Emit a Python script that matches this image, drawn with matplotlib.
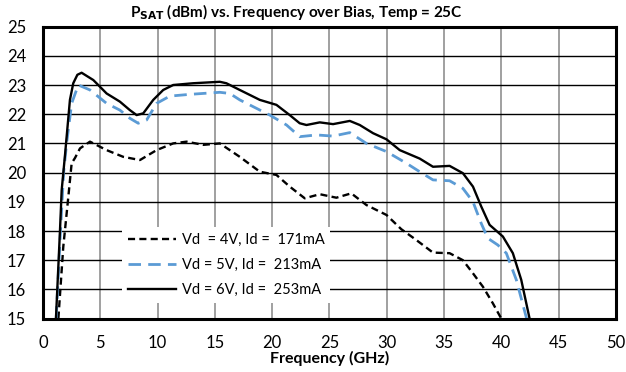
import matplotlib
matplotlib.use('Agg')
import matplotlib.pyplot as plt

plt.rcParams['font.family'] = ['Lato', 'DejaVu Sans']

# Vd = 4V, Id = 171mA
freq_4v = [1.34, 1.77, 2.21, 2.5, 2.79, 3.23, 4.1, 5.55, 7.0, 8.46, 9.91, 11.36, 12.53,
           13.98, 15.43, 17.17, 18.92, 20.37, 21.53, 22.84, 24.15, 25.6, 26.9, 28.22,
           29.97, 31.27, 32.58, 34.03, 35.48, 36.64, 37.52, 38.39, 39.26, 39.99]
psat_4v = [15.0, 17.46, 19.17, 20.32, 20.5, 20.83, 21.06, 20.77, 20.54, 20.43, 20.77, 21.0, 21.06,
           20.95, 21.0, 20.54, 20.03, 19.92, 19.52, 19.12, 19.26, 19.14, 19.29, 18.89,
           18.55, 18.06, 17.69, 17.26, 17.24, 17.0, 16.55, 16.09, 15.52, 15.0]

# Vd = 5V, Id = 213mA
freq_5v = [1.15, 1.5, 1.8, 2.06, 2.5, 3.08, 4.1, 5.55, 6.71, 7.58, 8.31, 9.04, 9.91, 11.07,
           12.82, 15.43, 16.3, 17.17, 19.79, 21.25, 22.4, 23.86, 25.31, 26.77, 28.22, 29.97,
           31.71, 32.87, 34.03, 35.48, 36.64, 37.52, 38.24, 38.82, 39.69, 40.43, 41.3, 42.2]
psat_5v = [15.0, 17.8, 20.0, 21.0, 22.37, 23.0, 22.83, 22.37, 22.14, 21.86, 21.69, 21.8, 22.37, 22.62,
           22.68, 22.75, 22.71, 22.49, 21.97, 21.63, 21.23, 21.29, 21.25, 21.37, 21.0, 20.72,
           20.32, 20.03, 19.75, 19.72, 19.46, 19.0, 18.26, 17.75, 17.52, 17.24, 16.33, 15.0]

# Vd = 6V, Id = 253mA
freq_6v = [1.13, 1.48, 1.63, 1.92, 2.35, 2.64, 3.0, 3.37, 4.39, 5.55, 6.71, 7.58, 8.17, 8.75,
           9.62, 10.49, 11.36, 13.1, 15.43, 16.0, 17.17, 18.92, 20.37, 21.53, 22.4, 22.99,
           24.15, 25.31, 26.77, 27.64, 28.8, 29.97, 31.13, 32.87, 34.03, 35.48, 36.64, 37.52,
           38.24, 38.97, 40.13, 41.0, 41.73, 42.46]
psat_6v = [15.0, 18.0, 19.4, 20.6, 22.49, 23.06, 23.35, 23.42, 23.17, 22.71, 22.43, 22.14, 21.97, 22.03,
           22.49, 22.83, 23.0, 23.06, 23.11, 23.06, 22.83, 22.49, 22.32, 21.97, 21.69, 21.63,
           21.72, 21.66, 21.77, 21.63, 21.35, 21.14, 20.77, 20.48, 20.2, 20.23, 19.98, 19.52,
           18.84, 18.21, 17.81, 17.24, 16.33, 15.0]

labels = ['Vd  = 4V, Id =  171mA', 'Vd = 5V, Id =  213mA', 'Vd = 6V, Id =  253mA']
x_ticks = list(range(0, 51, 5))
y_ticks = list(range(15, 26))

fig = plt.figure(figsize=(6.26, 3.72), dpi=100)
ax = fig.add_axes([43 / 626, 1 - 318.6 / 372, 573 / 626, 292 / 372])

ax.plot(freq_4v, psat_4v, color='black', lw=1.7, dashes=(3.0, 1.8), label=labels[0],
        solid_joinstyle='round', dash_joinstyle='round')
ax.plot(freq_5v, psat_5v, color='#5b9bd5', lw=2.0, dashes=(4.5, 2.6), label=labels[1],
        solid_joinstyle='round', dash_joinstyle='round')
ax.plot(freq_6v, psat_6v, color='black', lw=1.7, label=labels[2],
        solid_joinstyle='round')

ax.set_xlim(0, 50)
ax.set_ylim(15, 25)
ax.set_xticks(x_ticks)
ax.set_yticks(y_ticks)
ax.tick_params(length=0, labelsize=12)
ax.tick_params(axis='y', pad=12)
ax.tick_params(axis='x', pad=12)

ax.grid(axis='y', color='black', lw=1.0)
ax.grid(axis='x', color='#999999', lw=1.3)
ax.set_axisbelow(True)
for sp in ax.spines.values():
    sp.set_linewidth(2.2)
    sp.set_color('black')

ax.set_xlabel('Frequency (GHz)', fontsize=11.5, fontweight='bold', labelpad=0)
fig.text(296 / 626, 1 - 12 / 372, 'P$_{\\mathbf{SAT}}$ (dBm) vs. Frequency over Bias, Temp = 25C',
         ha='center', va='center', fontsize=11, fontweight='bold')

leg = ax.legend(loc='upper left', bbox_to_anchor=((122 - 43) / 573, (318.6 - 227) / 292),
                fontsize=10.5, frameon=True, fancybox=False, framealpha=1,
                handlelength=3.3, handletextpad=0.4, labelspacing=0.75, borderpad=0.4,
                borderaxespad=0)
leg.get_frame().set_edgecolor('none')
leg.get_frame().set_facecolor('white')

fig.savefig('out.png', dpi=100)
